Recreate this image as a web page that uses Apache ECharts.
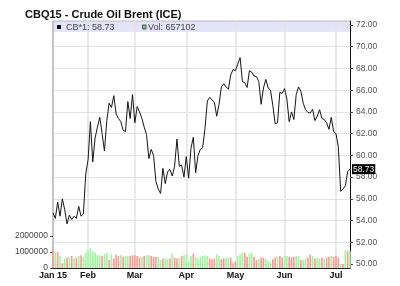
<!DOCTYPE html>
<html><head><meta charset="utf-8">
<script src="https://cdn.jsdelivr.net/npm/echarts@6/dist/echarts.min.js"></script>
<style>html,body{margin:0;padding:0;background:#fff}#c{width:400px;height:286px}</style>
</head><body><div id="c"></div>
<script>
const titleText = 'CBQ15 - Crude Oil Brent (ICE)';
const priceLegend = 'CB*1: 58.73';
const volLegend = 'Vol: 657102';
const monthLabels = ['Jan 15', 'Feb', 'Mar', 'Apr', 'May', 'Jun', 'Jul'];
const monthStarts = [0, 15, 35, 57, 78, 99, 121];
const prices = [
  54.7, 54.2, 55.7, 54.4, 56.0, 55.0, 53.7, 54.5, 54.1, 54.4, 54.2, 55.3, 54.4, 54.6, 58.3,
  59.6, 63.1, 59.4, 61.6, 62.6, 63.5, 62.0, 60.4, 63.2, 64.8, 64.4, 65.5, 63.8, 63.4, 63.1,
  62.3, 62.2, 64.95, 63.4, 65.6,
  63.0, 64.5, 64.0, 63.4, 62.6, 61.9, 59.7, 60.55, 60.0, 57.6, 56.9, 56.5, 58.8, 57.4, 58.5,
  58.7, 58.1, 59.0, 61.5, 59.0, 59.1, 58.0,
  59.9, 57.9, 60.65, 61.67, 58.4, 60.0, 60.55, 60.7, 62.5, 65.0, 65.35, 65.1, 64.9, 63.6, 64.7,
  66.3, 66.6, 66.3, 66.1, 67.4, 67.9,
  67.8, 68.4, 69.0, 66.8, 66.7, 66.25, 67.8, 67.65, 67.3, 67.25, 66.8, 64.7, 66.2, 67.0, 66.2,
  66.0, 64.6, 62.9, 63.0, 65.8, 65.7,
  66.15, 65.2, 63.1, 64.0, 63.3, 65.6, 66.3, 65.9, 64.8, 64.2, 63.95, 63.9, 64.25, 63.2, 63.6,
  64.2, 63.4, 63.3, 63.0, 62.4, 63.5, 62.2,
  62.0, 60.8, 56.7, 56.9, 57.2, 58.5, 58.73
];
const volumesK = [
  1150, 1000, 1000, 750, 300, 600, 650, 650, 750, 600, 650, 750, 800, 700, 950, 1100, 1250, 1050,
  950, 800, 800, 750, 900, 950, 500, 850, 600, 850, 750, 800, 700, 750, 750, 750, 800, 800, 750,
  650, 700, 750, 800, 800, 750, 700, 700, 700, 500, 600, 600, 550, 600, 900, 650, 600, 650, 750,
  800, 850, 400, 750, 900, 700, 600,
  700, 750, 800, 750, 600, 550, 600, 850, 750, 550, 600, 650, 650, 650, 300, 400, 750, 850, 950,
  950, 700, 900, 950, 700, 500, 550, 650, 650, 550, 400, 350, 550, 650, 700, 750, 650, 750, 750,
  700, 650, 700, 750, 750, 500, 500, 600, 650, 850, 750, 600, 650, 600, 650, 600, 650, 700, 750,
  700, 750, 650, 250, 250, 1100, 1050, 1050
];
const volumeDir =
  'dudududududgdggggggggdggdgddduduudddddgdggdddggdggdgddgdggggdgg' +
  'ggggdddggddggdddgggddggddgddgggddgddggdddggdggddgdggdgddgdddgdgdggg';
const volumeTicks = [0, 1000000, 2000000];

const categories = prices.map((_, i) => String(i));
const volumes = volumesK.map(v => v * 1000);
const RED = '#ff9595', GREEN = '#9af79a';
const FONT = 'Liberation Sans, Arial, sans-serif';

const chart = echarts.init(document.getElementById('c'), null, { renderer: 'canvas' });
chart.setOption({
  backgroundColor: '#fff',
  animation: false,
  title: {
    text: titleText, left: 25, top: 9, padding: 0,
    textStyle: { fontFamily: FONT, fontSize: 11, fontWeight: 'bold', color: '#111' }
  },
  grid: [
    { left: 53, right: 50, top: 25, bottom: 22 },
    { left: 53, right: 50, top: 21, bottom: 18 }
  ],
  xAxis: [
    { gridIndex: 0, type: 'category', data: categories, boundaryGap: false, show: false },
    {
      gridIndex: 1, type: 'category', data: categories, boundaryGap: false,
      axisLine: { lineStyle: { color: '#222', width: 1 } },
      axisTick: { show: false },
      axisLabel: {
        interval: (i) => monthStarts.includes(i),
        formatter: (v, i) => monthLabels[monthStarts.indexOf(Number(v))] || '',
        fontFamily: FONT, fontSize: 9, fontWeight: 'bold', color: '#111', margin: 3
      },
      splitLine: {
        show: true,
        interval: (i) => i > 0 && monthStarts.includes(i),
        lineStyle: { color: '#e3e3e3', width: 1.5 }
      }
    }
  ],
  yAxis: [
    {
      gridIndex: 0, type: 'value', position: 'right', min: 50, max: 72, interval: 2,
      axisLine: { show: false },
      axisTick: { show: true, length: 3, lineStyle: { color: '#444' } },
      axisLabel: { formatter: v => v.toFixed(2), fontFamily: FONT, fontSize: 8.5, color: '#555', margin: 6 },
      splitLine: { show: true, lineStyle: { color: '#e3e3e3', width: 1 } }
    },
    {
      gridIndex: 1, type: 'value', position: 'left', min: 0, max: 15440000,
      axisLine: { show: true, lineStyle: { color: '#c4c4c4', width: 2 } },
      axisTick: { show: true, customValues: volumeTicks, length: 3, lineStyle: { color: '#444' } },
      axisLabel: { customValues: volumeTicks, formatter: v => String(v), fontFamily: FONT, fontSize: 8.5, color: '#444', margin: 5 },
      splitLine: { show: false }
    },
    {
      gridIndex: 1, type: 'value', position: 'right', min: 0, max: 1,
      axisLine: { show: true, lineStyle: { color: '#111', width: 1 } },
      axisTick: { show: false }, axisLabel: { show: false }, splitLine: { show: false }
    }
  ],
  graphic: [
    { type: 'rect', z: -1, shape: { x: 53, y: 21, width: 297, height: 11 }, style: { fill: '#e3e3fa' } },
    { type: 'line', z: -1, shape: { x1: 53, y1: 21, x2: 350, y2: 21 }, style: { stroke: '#b8b8c8', lineWidth: 1 } },
    { type: 'rect', z: 20, shape: { x: 57, y: 25, width: 4, height: 4 }, style: { fill: '#000' } },
    { type: 'text', z: 20, x: 66, y: 27.5, style: { text: priceLegend, fill: '#444', font: '9px ' + FONT, verticalAlign: 'middle' } },
    { type: 'rect', z: 20, shape: { x: 142.5, y: 25, width: 3.5, height: 4 }, style: { fill: '#5de05d', stroke: '#333', lineWidth: 0.8 } },
    { type: 'text', z: 20, x: 148, y: 27.5, style: { text: volLegend, fill: '#444', font: '9px ' + FONT, verticalAlign: 'middle' } }
  ],
  series: [
    {
      type: 'bar', name: 'Vol', xAxisIndex: 1, yAxisIndex: 1, barWidth: 1.6,
      data: volumes.map((v, i) => ({ value: v, itemStyle: { color: volumeDir[i] === 'd' ? RED : GREEN } })),
      z: 2
    },
    {
      type: 'line', name: 'CB*1', xAxisIndex: 0, yAxisIndex: 0, data: prices,
      symbol: 'none', lineStyle: { color: '#151515', width: 1 }, z: 5,
      endLabel: {
        show: true, formatter: p => Number(p.value).toFixed(2), distance: 2,
        color: '#fff', backgroundColor: '#000', padding: [1, 1, 0, 1],
        fontFamily: FONT, fontSize: 8.5
      }
    }
  ]
});
</script></body></html>
